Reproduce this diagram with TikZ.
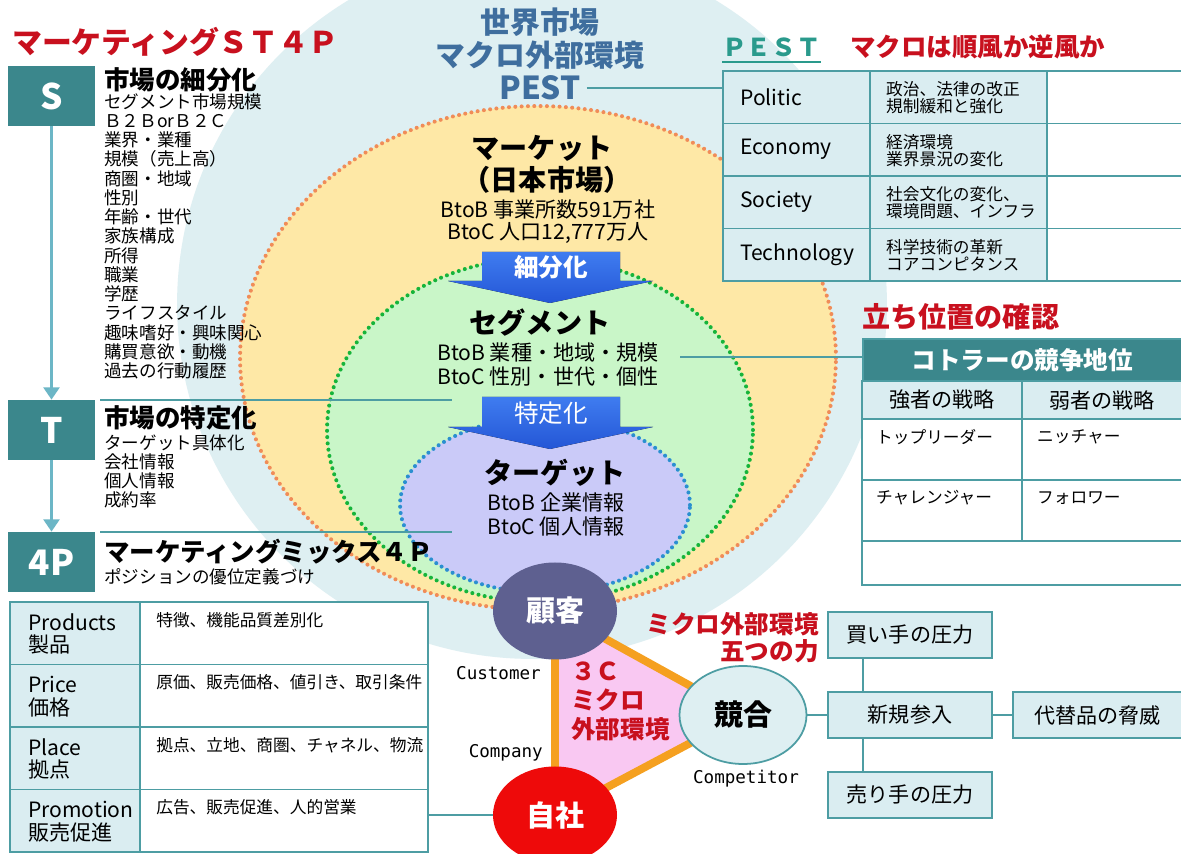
\documentclass[tikz,border=0pt]{standalone}
\usepackage{fontspec}
\setmainfont{Noto Sans CJK JP}
\newfontfamily\monofont{DejaVu Sans Mono}
\usetikzlibrary{positioning,arrows.meta,shapes.geometric}
\definecolor{tealbox}{HTML}{3B878C}
\definecolor{tealline}{HTML}{4D9DA3}
\definecolor{cellfill}{HTML}{DAEDF1}
\definecolor{worldfill}{HTML}{DEEFF2}
\definecolor{marketfill}{HTML}{FEE8A6}
\definecolor{marketline}{HTML}{F08C58}
\definecolor{segfill}{HTML}{C9F6C8}
\definecolor{segline}{HTML}{16B43A}
\definecolor{targetfill}{HTML}{CACAF8}
\definecolor{targetline}{HTML}{2A8FD0}
\definecolor{redtxt}{HTML}{C8101E}
\definecolor{worldtxt}{HTML}{3F6E9E}
\definecolor{arrowtop}{HTML}{3F7CF0}
\definecolor{arrowbot}{HTML}{2456D6}
\definecolor{custfill}{HTML}{5E6090}
\definecolor{selffill}{HTML}{EE0A0A}
\definecolor{trifill}{HTML}{F9C8F2}
\definecolor{triline}{HTML}{F5A020}
\definecolor{flowline}{HTML}{6CB6C6}
\definecolor{pesttxt}{HTML}{2A9A8C}
\tikzset{
  stepbox/.style={fill=tealbox, text=white, font=\fontsize{20}{20}\selectfont\bfseries,
    minimum width=87*0.02cm, minimum height=60*0.02cm, inner sep=0pt},
  steptitle/.style={anchor=west, inner sep=0pt, font=\fontsize{14.5}{15}\selectfont\bfseries},
  steplist/.style={anchor=north west, align=left, inner sep=0pt, font=\fontsize{10}{10.95}\selectfont},
  flowarrow/.style={draw=flowline, line width=1.8pt, -{Triangle[width=9pt,length=7pt]}},
  thinline/.style={draw=tealline, line width=0.6pt},
  dotline/.style={line width=2.3pt, dash pattern=on 0pt off 3.6pt, line cap=round},
  cell/.style={draw=tealline, line width=1.1pt},
  conn/.style={draw=tealline, line width=1.2pt},
  bigtxt/.style={font=\fontsize{16}{16}\selectfont\bfseries},
  subtxt/.style={font=\fontsize{12}{13}\selectfont},
  redhead/.style={text=redtxt, font=\fontsize{14.5}{15}\selectfont\bfseries},
  forcebox/.style={draw=tealline, fill=cellfill, line width=1.1pt, minimum width=164*0.02cm,
    minimum height=46*0.02cm, font=\fontsize{12}{12}\selectfont},
  threec/.style={ellipse, inner sep=0pt, minimum width=124*0.02cm, minimum height=97*0.02cm,
    font=\fontsize{16.5}{16.5}\selectfont\bfseries},
  cname/.style={font=\monofont\fontsize{10}{10}\selectfont}
}
\begin{document}
\begin{tikzpicture}[x=0.02cm, y=-0.02cm]
\useasboundingbox (0,0) rectangle (1181,854);
\clip (0,0) rectangle (1181,854);
\fill[white] (0,0) rectangle (1181,854);

\fill[worldfill] (532,304) circle [radius=7.1cm];
\filldraw[fill=marketfill, draw=marketline, dotline] (538,358) ellipse [x radius=5.96cm, y radius=5.04cm];
\filldraw[fill=segfill, draw=segline, dotline] (540,430) ellipse [x radius=4.26cm, y radius=3.44cm];
\filldraw[fill=targetfill, draw=targetline, dotline] (545,505) ellipse [x radius=2.9cm, y radius=1.76cm];

\node[text=worldtxt, font=\fontsize{17}{17}\selectfont\bfseries] (world1) at (540,22) {世界市場};
\node[text=worldtxt, font=\fontsize{17}{17}\selectfont\bfseries] (world2) at (540,55) {マクロ外部環境};
\node[text=worldtxt, font=\fontsize{18}{18}\selectfont\bfseries] (pestLbl) at (540,88) {PEST};

\node[bigtxt] (market1) at (542,148) {マーケット};
\node[bigtxt] (market2) at (547,180) {（日本市場）};
\node[subtxt] (market3) at (548,210) {BtoB 事業所数591万社};
\node[subtxt] (market4) at (548,233) {BtoC 人口12,777万人};

\fill[top color=arrowtop, bottom color=arrowbot] (482,252) -- (620,252) -- (620,281) -- (653,281)
  -- (550,303) -- (448,281) -- (482,281) -- cycle;
\node[text=white, font=\fontsize{14}{14}\selectfont\bfseries] (splitLbl) at (551,267) {細分化};

\node[bigtxt] (seg1) at (540,323) {セグメント};
\node[subtxt] (seg2) at (548,352) {BtoB 業種・地域・規模};
\node[subtxt] (seg3) at (548,377) {BtoC 性別・世代・個性};

\fill[top color=arrowtop, bottom color=arrowbot] (482,397) -- (620,397) -- (620,427) -- (653,427)
  -- (550,449) -- (448,427) -- (482,427) -- cycle;
\node[text=white, font=\fontsize{14}{14}\selectfont] (focusLbl) at (551,413) {特定化};

\node[bigtxt] (tgt1) at (555,473) {ターゲット};
\node[subtxt] (tgt2) at (556,502) {BtoB 企業情報};
\node[subtxt] (tgt3) at (556,527) {BtoC 個人情報};

\node[anchor=west, text=redtxt, font=\fontsize{17}{17}\selectfont\bfseries] (mktTitle) at (6,42) {マーケティングＳＴ４Ｐ};

\node[stepbox] (Sbox) at (51.5,96) {S};
\node[steptitle] (Stitle) at (104,80) {市場の細分化};
\node[steplist] (Slist) at (104,93) {セグメント市場規模\\Ｂ２ＢorＢ２Ｃ\\業界・業種\\規模（売上高）\\商圏・地域\\性別\\年齢・世代\\家族構成\\所得\\職業\\学歴\\ライフスタイル\\趣味嗜好・興味関心\\購買意欲・動機\\過去の行動履歴};

\node[stepbox] (Tbox) at (51.5,430) {T};
\node[steptitle] (Ttitle) at (104,418) {市場の特定化};
\node[steplist] (Tlist) at (104,434) {ターゲット具体化\\会社情報\\個人情報\\成約率};

\node[stepbox] (Mbox) at (51.5,562) {4P};
\node[steptitle] (Mtitle) at (104,552) {マーケティングミックス４Ｐ};
\node[steplist] (Mlist) at (104,568) {ポジションの優位定義づけ};

\draw[flowarrow] (Sbox) -- (Tbox);
\draw[flowarrow] (Tbox) -- (Mbox);
\draw[thinline] (100,400) -- (452,400);
\draw[thinline] (100,532) -- (452,532);

\foreach \en/\jp/\desc [count=\i from 0] in {Products/製品/特徴、機能品質差別化, Price/価格/原価、販売価格、値引き、取引条件, Place/拠点/拠点、立地、商圏、チャネル、物流, Promotion/販売促進/広告、販売促進、人的営業}{
  \pgfmathsetmacro\yt{602+62.5*\i}
  \draw[cell, fill=cellfill] (10,\yt) rectangle (140,\yt+62.5);
  \draw[cell, fill=white] (140,\yt) rectangle (428,\yt+62.5);
  \node[anchor=west, align=left, font=\fontsize{12}{13}\selectfont] (mixName\i) at (22,\yt+32) {\en\\\jp};
  \node[anchor=north west, inner sep=0pt, font=\fontsize{9.5}{10}\selectfont] (mixDesc\i) at (156,\yt+10) {\desc};
}
\coordinate (mixEdge) at (428,815);

\node[anchor=west, inner sep=0pt, text=pesttxt, font=\fontsize{14}{14}\selectfont\bfseries] (pestTitle) at (722,47) {ＰＥＳＴ};
\draw[draw=pesttxt, line width=1pt] ([yshift=-3pt]pestTitle.south west) -- ([yshift=-3pt]pestTitle.south east);
\node[anchor=west, inner sep=0pt, redhead] (pestHead) at (850,47) {マクロは順風か逆風か};
\coordinate (pestTL) at (723,71);
\foreach \nm/\la/\lb [count=\i from 0] in {Politic/政治、法律の改正/規制緩和と強化, Economy/経済環境/業界景況の変化, Society/社会文化の変化、/環境問題、インフラ, Technology/科学技術の革新/コアコンピタンス}{
  \pgfmathsetmacro\yt{71+52.5*\i}
  \draw[cell, fill=cellfill] (723,\yt) rectangle (870,\yt+52.5);
  \draw[cell, fill=cellfill] (870,\yt) rectangle (1047,\yt+52.5);
  \draw[cell, fill=white] (1047,\yt) rectangle (1190,\yt+52.5);
  \node[anchor=west, font=\fontsize{12}{12}\selectfont] (pestName\i) at (734,\yt+26) {\nm};
  \node[anchor=west, align=left, font=\fontsize{9.5}{9.8}\selectfont] (pestDesc\i) at (880,\yt+27) {\la\\\lb};
}
\draw[conn] (pestLbl.east) -- (pestLbl.east -| pestTL);

\node[anchor=west, inner sep=0pt, text=redtxt, font=\fontsize{16}{16}\selectfont\bfseries] (kotTitle) at (862,317) {立ち位置の確認};
\node[cell, fill=tealbox, anchor=north west, minimum width=328*0.02cm, minimum height=43*0.02cm,
  text=white, font=\fontsize{14}{14}\selectfont\bfseries] (kotHead) at (862,338) {\hspace*{-0.18cm}コトラーの競争地位};
\draw[cell, fill=cellfill] (862,381) rectangle (1022,419);
\draw[cell, fill=cellfill] (1022,381) rectangle (1190,419);
\node[font=\fontsize{12}{12}\selectfont] (strong) at (942,400) {強者の戦略};
\node[font=\fontsize{12}{12}\selectfont] (weak) at (1102,400) {弱者の戦略};
\draw[cell, fill=white] (862,419) rectangle (1022,480);
\draw[cell, fill=white] (1022,419) rectangle (1190,480);
\draw[cell, fill=white] (862,480) rectangle (1022,541);
\draw[cell, fill=white] (1022,480) rectangle (1190,541);
\draw[cell, fill=white] (862,541) rectangle (1190,585);
\node[anchor=west, font=\fontsize{9.5}{10}\selectfont] (leader) at (870,437) {トップリーダー};
\node[anchor=west, font=\fontsize{9.5}{10}\selectfont] (nicher) at (1031,437) {ニッチャー};
\node[anchor=west, font=\fontsize{9.5}{10}\selectfont] (challenger) at (870,498) {チャレンジャー};
\node[anchor=west, font=\fontsize{9.5}{10}\selectfont] (follower) at (1031,498) {フォロワー};
\coordinate (segEnd) at (680,357);
\draw[conn] (segEnd) -- (segEnd -| kotHead.west);

\coordinate (custC) at (555,611);
\coordinate (compC) at (743,715);
\coordinate (selfC) at (555,815);
\filldraw[fill=trifill, draw=triline, line width=4.5pt, line join=round] (custC) -- (compC) -- (selfC) -- cycle;
\node[anchor=north west, align=left, inner sep=0pt, text=redtxt, font=\fontsize{14}{16.5}\selectfont\bfseries] (threeC) at (571,661) {３Ｃ\\ミクロ\\外部環境};
\node[threec, fill=custfill, text=white] (cust) at (custC) {顧客};
\node[threec, draw=tealline, line width=1pt, fill=worldfill, minimum width=127*0.02cm, minimum height=98*0.02cm] (comp) at (compC) {競合};
\node[threec, fill=selffill, text=white] (self) at (selfC) {自社};
\node[cname, anchor=east] (custName) at (547,673) {Customer};
\node[cname, anchor=east] (selfName) at (549,753) {Company};
\node[cname] (compName) at (746,779) {Competitor};
\draw[conn] (mixEdge) -- (self);

\node[anchor=north east, align=right, inner sep=0pt, redhead, font=\fontsize{14}{15.5}\selectfont\bfseries] (forceHead) at (819,612) {ミクロ外部環境\\五つの力};
\node[forcebox] (buyer) at (910,635) {買い手の圧力};
\node[forcebox] (entry) at (910,715) {新規参入};
\node[forcebox] (seller) at (910,795) {売り手の圧力};
\node[forcebox, anchor=west, minimum width=175*0.02cm] (subst) at (1012,715) {\hspace*{-0.12cm}代替品の脅威};
\draw[conn] ([xshift=-0.94cm]buyer.south) -- ([xshift=-0.94cm]entry.north);
\draw[conn] ([xshift=-0.94cm]entry.south) -- ([xshift=-0.94cm]seller.north);
\draw[conn] (comp) -- (entry);
\draw[conn] (entry) -- (subst);
\end{tikzpicture}
\end{document}
